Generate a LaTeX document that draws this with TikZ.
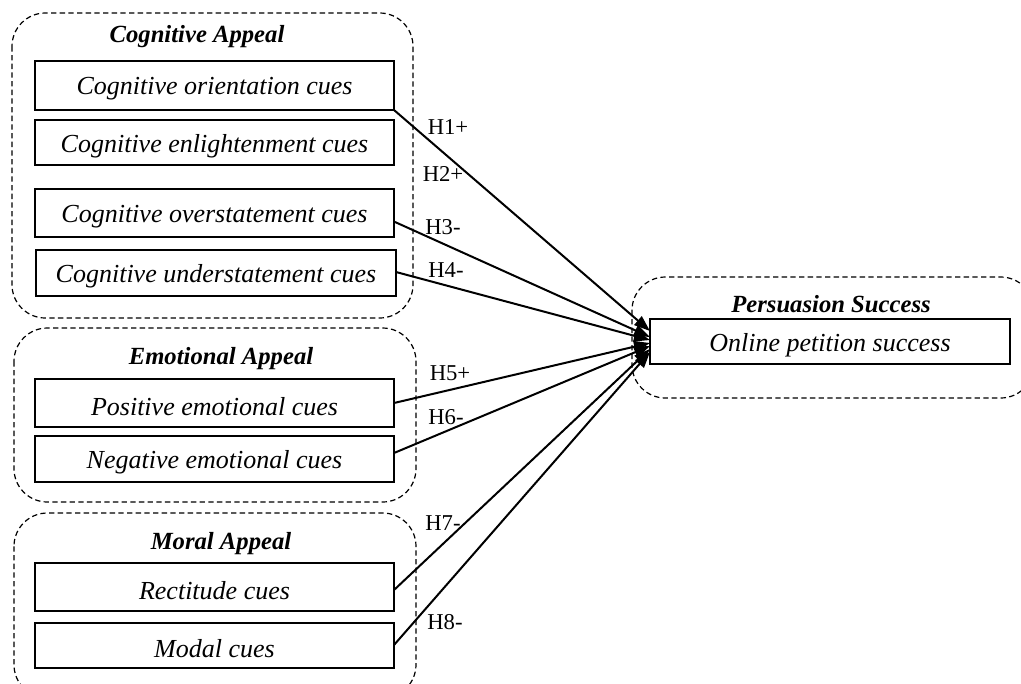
\documentclass[tikz,border=0pt]{standalone}
\usepackage{fontspec}
\setmainfont{Liberation Serif}
\usetikzlibrary{arrows.meta}
\begin{document}
\begin{tikzpicture}[x=0.75pt,y=-0.75pt,
  group/.style={draw, line width=0.9pt, dash pattern=on 4pt off 2.5pt, rounded corners=25pt},
  cue/.style={draw, line width=1pt, inner sep=0pt},
  ttl/.style={font=\fontsize{18.5}{20}\selectfont\bfseries\itshape, yshift=-3pt},
  lbl/.style={font=\fontsize{17}{19}\selectfont},
  cuetext/.style={font=\fontsize{19.5}{21}\selectfont\itshape, yshift=-2.5pt},
  link/.style={line width=1.5pt, -{Triangle[length=12pt,width=8.5pt]}}]
\useasboundingbox (0,0) rectangle (1021,683);
\clip (0,0) rectangle (1021,683);
% groups
\draw[group] (12,13) rectangle (413,318);
\draw[group] (14,328) rectangle (416,502);
\draw[group] (14,513) rectangle (416,698);
\draw[group] (632,277) rectangle (1034,398);
% titles
\node[ttl] (tcog) at (197,33) {Cognitive Appeal};
\node[ttl] (temo) at (221,355) {Emotional Appeal};
\node[ttl] (tmor) at (221,540) {Moral Appeal};
\node[ttl] (tper) at (831,300) {Persuasion Success};
% boxes
\newcommand{\cuebox}[6]{\draw[cue] (#2,#3) rectangle (#4,#5);
  \node[cuetext] (#1) at ({(#2+#4)/2},{(#3+#5)/2}) {#6};}
\cuebox{b1}{35}{61}{394}{110}{Cognitive orientation cues}
\cuebox{b2}{35}{120}{394}{165}{Cognitive enlightenment cues}
\cuebox{b3}{35}{189}{394}{237}{Cognitive overstatement cues}
\cuebox{b4}{36}{250}{396}{296}{Cognitive understatement cues}
\cuebox{b5}{35}{379}{394}{427}{Positive emotional cues}
\cuebox{b6}{35}{436}{394}{482}{Negative emotional cues}
\cuebox{b7}{35}{563}{394}{611}{Rectitude cues}
\cuebox{b8}{35}{623}{394}{668}{Modal cues}
\cuebox{out}{650}{319}{1010}{364}{Online petition success}
% connector end points
\coordinate (s1) at (394,110);
\coordinate (s3) at (395,222);
\coordinate (s4) at (396,272);
\coordinate (s5) at (394,403);
\coordinate (s6) at (394,453);
\coordinate (s7) at (394,590);
\coordinate (s8) at (394,645);
\coordinate (e1) at (650,331);
\coordinate (e3) at (650,337);
\coordinate (e4) at (650,340);
\coordinate (e5) at (650,343);
\coordinate (e6) at (650,346);
\coordinate (e7) at (650,349);
\coordinate (e8) at (650,352);
\draw[link] (s1) -- (e1);
\draw[link] (s3) -- (e3);
\draw[link] (s4) -- (e4);
\draw[link] (s5) -- (e5);
\draw[link] (s6) -- (e6);
\draw[link] (s7) -- (e7);
\draw[link] (s8) -- (e8);
% labels
\node[lbl] (h1) at (448,127) {H1+};
\node[lbl] (h2) at (443,174) {H2+};
\node[lbl] (h3) at (443,227) {H3-};
\node[lbl] (h4) at (446,270) {H4-};
\node[lbl] (h5) at (450,373) {H5+};
\node[lbl] (h6) at (446,417) {H6-};
\node[lbl] (h7) at (443,523) {H7-};
\node[lbl] (h8) at (445,622) {H8-};
\end{tikzpicture}
\end{document}
